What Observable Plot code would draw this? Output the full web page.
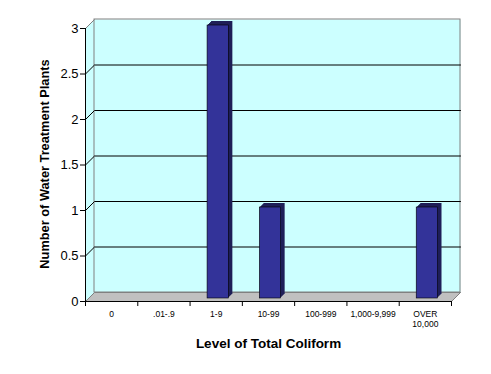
<!DOCTYPE html>
<html><head><meta charset="utf-8">
<script src="https://cdn.jsdelivr.net/npm/d3@7"></script>
<script src="https://cdn.jsdelivr.net/npm/@observablehq/plot@0.6"></script>
<style>body{margin:0;background:#fff}</style>
</head><body><div id="chart"></div>
<script>
const categories = ["0", ".01-.9", "1-9", "10-99", "100-999", "1,000-9,999", "OVER\n10,000"];
const counts = [0, 0, 3, 1, 0, 0, 1];
const yTicks = [0, 0.5, 1, 1.5, 2, 2.5, 3];
const xTitle = "Level of Total Coliform";
const yTitle = "Number of Water Treatment Plants";

const W = 491, H = 374, ML = 85, MR = 40, MT = 28, MB = 73;
const nCat = categories.length;
const yMax = yTicks[yTicks.length - 1];
const depth = 9; // 3-D depth in pixels
const ox = depth * nCat / (W - ML - MR);
const oy = depth * yMax / (H - MT - MB);

const rows = categories.map((c, i) => ({cat: c, i, count: counts[i]}));
const bars = rows.filter(d => d.count > 0);
const grid = yTicks.filter(v => v > 0 && v < yMax);

const hexagon = [[0,0],[0,yMax],[ox,yMax+oy],[nCat+ox,yMax+oy],[nCat+ox,oy],[nCat,0]];
const floor = [[0,0],[nCat,0],[nCat+ox,oy],[ox,oy]];
const gridPaths = grid.flatMap(v => [{x:0,y:v,g:v},{x:ox,y:v+oy,g:v},{x:nCat+ox,y:v+oy,g:v}]);
const edges = [
  {x1:0,y1:0,x2:ox,y2:oy},
  {x1:0,y1:yMax,x2:ox,y2:yMax+oy},
  {x1:nCat,y1:0,x2:nCat+ox,y2:oy}
];

const sideMarks = [4,3,2,1].map(k => Plot.rect(bars, {
  x1: d => d.i, x2: d => d.i + 1, y1: 0, y2: "count",
  insetLeft: 15.5, insetRight: 15.5, dx: 2 + k, dy: -3 - k,
  fill: "#1f1f58"
}));

const chart = Plot.plot({
  width: W, height: H,
  marginLeft: ML, marginRight: MR, marginTop: MT, marginBottom: MB,
  style: {fontFamily: "'Liberation Sans', Arial, sans-serif", background: "#fff", color: "#000"},
  x: {type: "linear", domain: [0, nCat], axis: null},
  y: {type: "linear", domain: [0, yMax], axis: null},
  marks: [
    Plot.line(hexagon, {x: d => d[0], y: d => d[1], fill: "#ccffff", stroke: "none"}),
    Plot.line(floor.concat([floor[0]]), {x: d => d[0], y: d => d[1], fill: "#c0c0c0", stroke: "#808080", strokeWidth: 1}),
    Plot.rect([0], {x1: ox, x2: nCat + ox, y1: oy, y2: yMax + oy, fill: "none", stroke: "#808080", strokeWidth: 1}),
    Plot.link(edges, {x1: "x1", y1: "y1", x2: "x2", y2: "y2", stroke: "#808080", strokeWidth: 1}),
    Plot.line(gridPaths, {x: "x", y: "y", z: "g", stroke: "#000", strokeWidth: 1}),
    ...sideMarks,
    Plot.rect(bars, {
      x1: d => d.i, x2: d => d.i + 1, y1: 0, y2: "count",
      insetLeft: 15.5, insetRight: 15.5, dx: 2, dy: -3,
      fill: "#333399", stroke: "#000", strokeWidth: 0.6
    }),
    Plot.ruleX([0], {y1: 0, y2: yMax, stroke: "#000"}),
    Plot.ruleY([0], {x1: 0, x2: nCat, stroke: "#000"}),
    Plot.axisY({ticks: yTicks, tickSize: 5, tickPadding: 2, fontSize: 13, tickFormat: d => String(d), label: null}),
    Plot.axisX({ticks: d3.range(nCat + 1), tickSize: 5, tickFormat: () => "", label: null}),
    Plot.axisX({ticks: rows.map(d => d.i + 0.5), tickSize: 0, tickPadding: 8.5, fontSize: 8.5, lineHeight: 1.15,
      tickFormat: v => categories[Math.floor(v)], label: null}),
    Plot.text([yTitle], {frameAnchor: "left", dx: -41, dy: -1, rotate: -90, textAnchor: "middle", lineAnchor: "middle", fontWeight: "bold", fontSize: 12.8}),
    Plot.text([xTitle], {frameAnchor: "bottom", dy: 42, textAnchor: "middle", lineAnchor: "middle", fontWeight: "bold", fontSize: 13.5})
  ]
});
document.getElementById("chart").appendChild(chart);
</script>
</body></html>
